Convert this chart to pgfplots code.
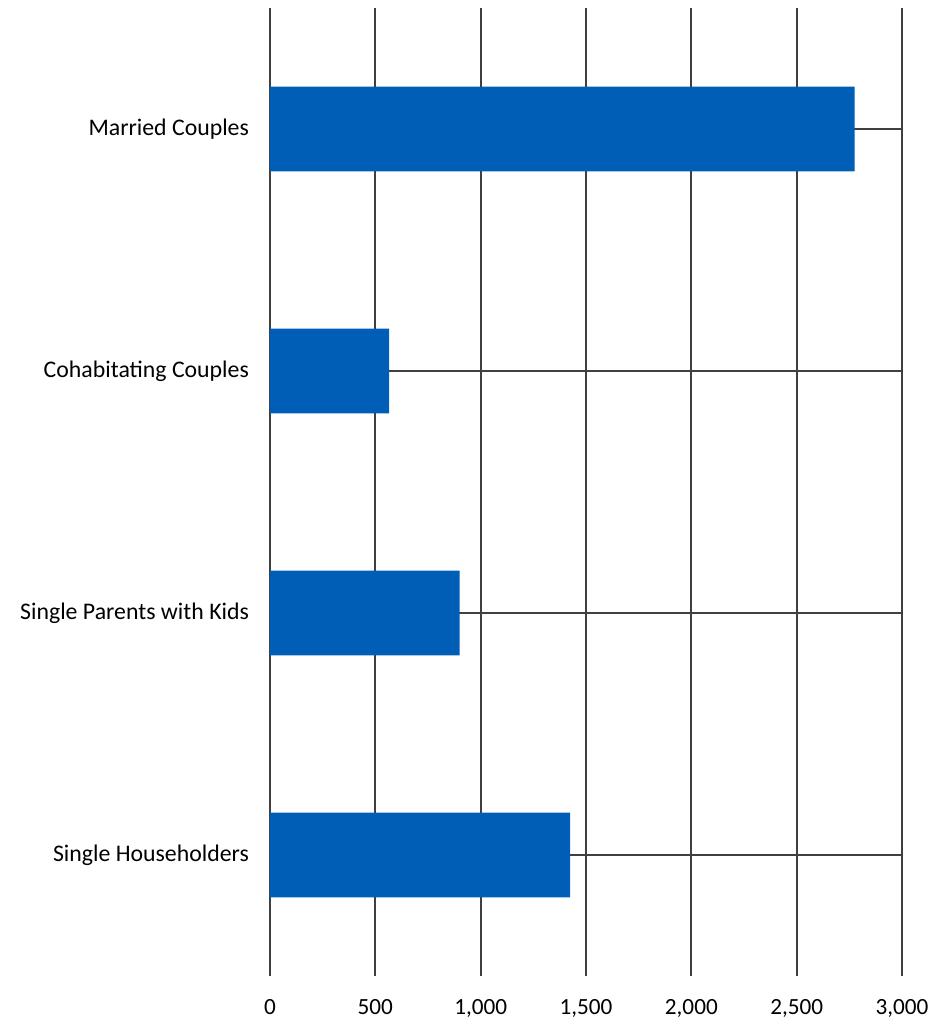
\documentclass[border=0pt]{standalone}
\usepackage{pgfplots}
\pgfplotsset{compat=1.18}
\usepackage{fontspec}
\setmainfont{Carlito}
\definecolor{barblue}{RGB}{0,94,182}
\begin{document}
\begin{tikzpicture}
\useasboundingbox (-135pt,-22pt) rectangle (336.5pt,488pt);
\begin{axis}[
  at={(0,0)}, anchor=south west,
  scale only axis,
  width=316pt, height=484pt,
  xbar, bar width=0.35,
  xmin=0, xmax=3000,
  ymin=-0.5, ymax=3.5,
  xtick={0,500,1000,1500,2000,2500,3000},
  xticklabels={0,500,{1,000},{1,500},{2,000},{2,500},{3,000}},
  ytick={0,1,2,3},
  yticklabels={Single Householders, Single Parents with Kids, Cohabitating Couples, Married Couples},
  xmajorgrids, ymajorgrids,
  grid style={line width=0.9pt, color=black!75},
  axis line style={draw=none},
  major tick length=0pt,
  xticklabel style={font=\fontsize{11.6}{14}\selectfont, yshift=-8pt},
  yticklabel style={font=\fontsize{11.9}{14}\selectfont, xshift=-7pt},
]
\addplot[fill=barblue, draw=none] coordinates {
  (1425,0) (900,1) (565,2) (2775,3)
};
\end{axis}
\end{tikzpicture}
\end{document}
